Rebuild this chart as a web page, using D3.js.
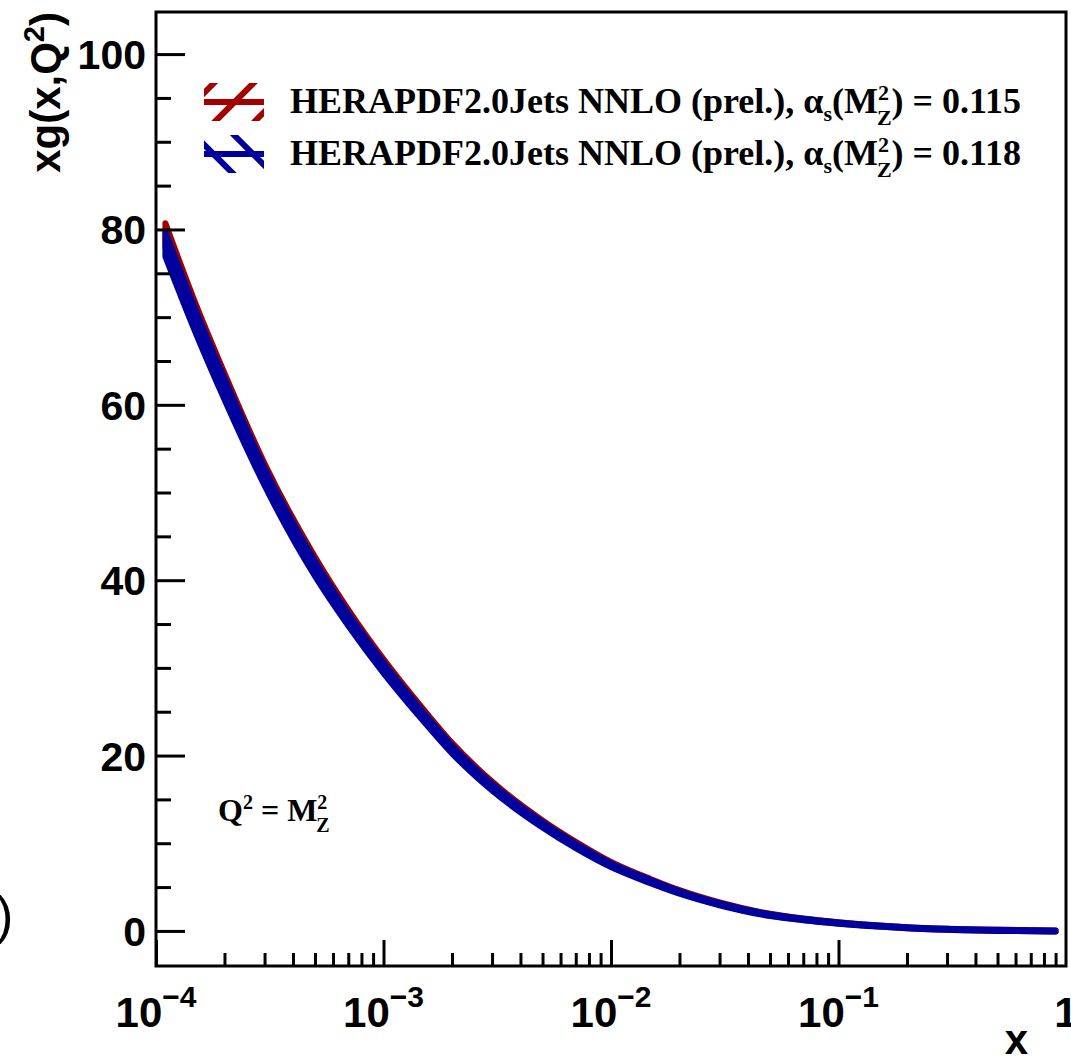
<!DOCTYPE html>
<html>
<head>
<meta charset="utf-8">
<script src="https://cdn.jsdelivr.net/npm/d3@7"></script>
<style>
  body { margin: 0; background: #fff; }
  svg { display: block; }
</style>
</head>
<body>
<svg id="chart"></svg>
<script>
var xVals = [1.1e-4, 1.5e-4, 2e-4, 3e-4, 5e-4, 7e-4, 1e-3, 1.5e-3, 2e-3, 3e-3, 5e-3, 7e-3,
             1e-2, 1.5e-2, 2e-2, 3e-2, 5e-2, 7e-2, 0.1, 0.15, 0.2, 0.3, 0.5, 0.9];
// alpha_s = 0.115 central values
var red115 = [79.3, 70.1, 62.4, 52.3, 41.8, 35.95, 30.4, 24.75, 21.0, 16.65, 12.3, 9.9,
              7.65, 5.72, 4.5, 3.13, 1.85, 1.33, 0.92, 0.56, 0.37, 0.18, 0.06, 0.0];
// alpha_s = 0.118 central values
var blue118 = [78.3, 69.4, 61.8, 51.8, 41.3, 35.5, 30.0, 24.4, 20.7, 16.4, 12.1, 9.7,
               7.5, 5.6, 4.4, 3.05, 1.8, 1.3, 0.9, 0.55, 0.36, 0.18, 0.06, 0.0];
// half width of the uncertainty bands
var bandErr = [1.4, 1.3, 1.2, 1.0, 0.85, 0.7, 0.6, 0.5, 0.45, 0.38, 0.3, 0.26,
               0.22, 0.18, 0.15, 0.12, 0.1, 0.08, 0.07, 0.06, 0.06, 0.06, 0.06, 0.06];

var yTicks = [0, 20, 40, 60, 80, 100];
var xTickExp = [-4, -3, -2, -1];
var legendLabels = ["HERAPDF2.0Jets NNLO (prel.), ", "HERAPDF2.0Jets NNLO (prel.), "];
var legendAlpha = ["0.115", "0.118"];

var W = 1071, H = 1060;
var margin = { top: 12, right: 5, bottom: 94, left: 156 };
var width = W - margin.left - margin.right,
    height = H - margin.top - margin.bottom;

var svg = d3.select("#chart").attr("width", W).attr("height", H);

var x = d3.scaleLog().domain([1e-4, 1]).range([0, width]);
var y = d3.scaleLinear().domain([-4.0, 104.8]).range([height, 0]);

var g = svg.append("g").attr("transform", "translate(" + margin.left + "," + margin.top + ")");

g.append("clipPath").attr("id", "plotclip")
  .append("rect").attr("width", width).attr("height", height);

// bands
function bandData(vals) {
  return xVals.map(function(d, i) { return { x: d, lo: vals[i] - bandErr[i], hi: vals[i] + bandErr[i] }; });
}
var area = d3.area()
  .x(function(d) { return x(d.x); })
  .y0(function(d) { return y(d.lo); })
  .y1(function(d) { return y(d.hi); })
  .curve(d3.curveMonotoneX);

var plot = g.append("g").attr("clip-path", "url(#plotclip)");
plot.append("path").datum(bandData(red115))
  .attr("d", area)
  .attr("fill", "#a30000").attr("stroke", "#a30000").attr("stroke-width", 6)
  .attr("stroke-linejoin", "round");
plot.append("path").datum(bandData(blue118))
  .attr("d", area)
  .attr("fill", "#00009c").attr("stroke", "#00009c").attr("stroke-width", 6)
  .attr("stroke-linejoin", "round");

// frame
g.append("rect").attr("width", width).attr("height", height)
  .attr("fill", "none").attr("stroke", "#000").attr("stroke-width", 3);

// y axis ticks (inward)
var yMinor = d3.range(0, 105, 5).filter(function(v) { return yTicks.indexOf(v) < 0; });
g.append("g").call(d3.axisLeft(y).tickValues(yTicks).tickSize(-29).tickFormat(""))
  .call(function(s) { s.select(".domain").remove(); s.selectAll("line").attr("stroke-width", 3); });
g.append("g").call(d3.axisLeft(y).tickValues(yMinor).tickSize(-15).tickFormat(""))
  .call(function(s) { s.select(".domain").remove(); s.selectAll("line").attr("stroke-width", 3); });

g.selectAll(".ylab").data(yTicks).enter().append("text")
  .attr("class", "ylab")
  .attr("x", -10).attr("y", function(d) { return y(d) + 15; })
  .attr("text-anchor", "end")
  .style("font-family", "Liberation Sans, Arial, sans-serif")
  .style("font-weight", "bold").style("font-size", "41px")
  .text(function(d) { return d; });

// x axis ticks (inward)
var xMajor = xTickExp.map(function(e) { return Math.pow(10, e); });
var xMinor = x.ticks().filter(function(v) {
  var l = Math.log10(v); return Math.abs(l - Math.round(l)) > 1e-6;
});
g.append("g").attr("transform", "translate(0," + height + ")")
  .call(d3.axisBottom(x).tickValues(xMajor).tickSize(-26).tickFormat(""))
  .call(function(s) { s.select(".domain").remove(); s.selectAll("line").attr("stroke-width", 3); });
g.append("g").attr("transform", "translate(0," + height + ")")
  .call(d3.axisBottom(x).tickValues(xMinor).tickSize(-13).tickFormat(""))
  .call(function(s) { s.select(".domain").remove(); s.selectAll("line").attr("stroke-width", 3); });

var xl = g.selectAll(".xlab").data(xTickExp).enter().append("text")
  .attr("class", "xlab")
  .attr("x", function(d) { return x(Math.pow(10, d)); })
  .attr("y", height + 61)
  .attr("text-anchor", "middle")
  .style("font-family", "Liberation Sans, Arial, sans-serif")
  .style("font-weight", "bold").style("font-size", "42px");
xl.append("tspan").text("10");
xl.append("tspan").attr("dy", -20).style("font-size", "30px").text(function(d) { return "\u2212" + (-d); });

g.append("text")
  .attr("x", x(1)).attr("y", height + 61)
  .attr("text-anchor", "middle")
  .style("font-family", "Liberation Sans, Arial, sans-serif")
  .style("font-weight", "bold").style("font-size", "42px")
  .text("1");

// axis titles
g.append("text")
  .attr("x", width - 38).attr("y", height + 88)
  .attr("text-anchor", "end")
  .style("font-family", "Liberation Sans, Arial, sans-serif")
  .style("font-weight", "bold").style("font-size", "42px")
  .text("x");

var yt = svg.append("text")
  .attr("transform", "translate(60," + margin.top + ") rotate(-90)")
  .attr("text-anchor", "end")
  .style("font-family", "Liberation Sans, Arial, sans-serif")
  .style("font-weight", "bold").style("font-size", "42px");
yt.append("tspan").text("xg(x,Q");
yt.append("tspan").attr("dy", -16).style("font-size", "29px").text("2");
yt.append("tspan").attr("dy", 16).text(")");

// stray bracket from neighbouring panel
svg.append("text")
  .attr("x", -4).attr("y", 933)
  .style("font-family", "Liberation Sans, Arial, sans-serif")
  .style("font-size", "52px")
  .text(")");

// Q^2 = M_Z^2 note
var q = svg.append("text")
  .attr("x", 218).attr("y", 821)
  .style("font-family", "Liberation Serif, Times New Roman, serif")
  .style("font-weight", "bold").style("font-size", "32px");
q.append("tspan").text("Q");
q.append("tspan").attr("dy", -12).style("font-size", "20px").text("2");
q.append("tspan").attr("dy", 12).text(" = M");
q.append("tspan").attr("dy", -12).style("font-size", "20px").text("2");
q.append("tspan").attr("dx", -11).attr("dy", 23).style("font-size", "20px").text("Z");

// legend
var defs = svg.append("defs");
defs.append("pattern").attr("id", "hatchRed").attr("patternUnits", "userSpaceOnUse")
  .attr("width", 28).attr("height", 28).attr("patternTransform", "rotate(45)")
  .append("line").attr("x1", 14).attr("y1", 0).attr("x2", 14).attr("y2", 28)
  .attr("stroke", "#a30000").attr("stroke-width", 6);
defs.append("pattern").attr("id", "hatchBlue").attr("patternUnits", "userSpaceOnUse")
  .attr("width", 28).attr("height", 28).attr("patternTransform", "rotate(-45)")
  .append("line").attr("x1", 14).attr("y1", 0).attr("x2", 14).attr("y2", 28)
  .attr("stroke", "#00009c").attr("stroke-width", 6);

var legColors = ["#a30000", "#00009c"];
var legFills = ["url(#hatchRed)", "url(#hatchBlue)"];
var legY = [102, 154];
legendLabels.forEach(function(lab, i) {
  var ly = legY[i];
  svg.append("rect").attr("x", 204).attr("y", ly - 19).attr("width", 60).attr("height", 38)
    .attr("fill", legFills[i]);
  svg.append("line").attr("x1", 204).attr("x2", 264).attr("y1", ly).attr("y2", ly)
    .attr("stroke", legColors[i]).attr("stroke-width", 6);
  var t = svg.append("text").attr("x", 290).attr("y", ly + 11)
    .style("font-family", "Liberation Serif, Times New Roman, serif")
    .style("font-weight", "bold").style("font-size", "36px");
  t.append("tspan").text(lab + "\u03b1");
  t.append("tspan").attr("dy", 8).style("font-size", "22px").text("s");
  t.append("tspan").attr("dy", -8).text("(M");
  t.append("tspan").attr("dy", -13).style("font-size", "22px").text("2");
  t.append("tspan").attr("dx", -12).attr("dy", 25).style("font-size", "22px").text("Z");
  t.append("tspan").attr("dy", -12).text(") = " + legendAlpha[i]);
});
</script>
</body>
</html>
